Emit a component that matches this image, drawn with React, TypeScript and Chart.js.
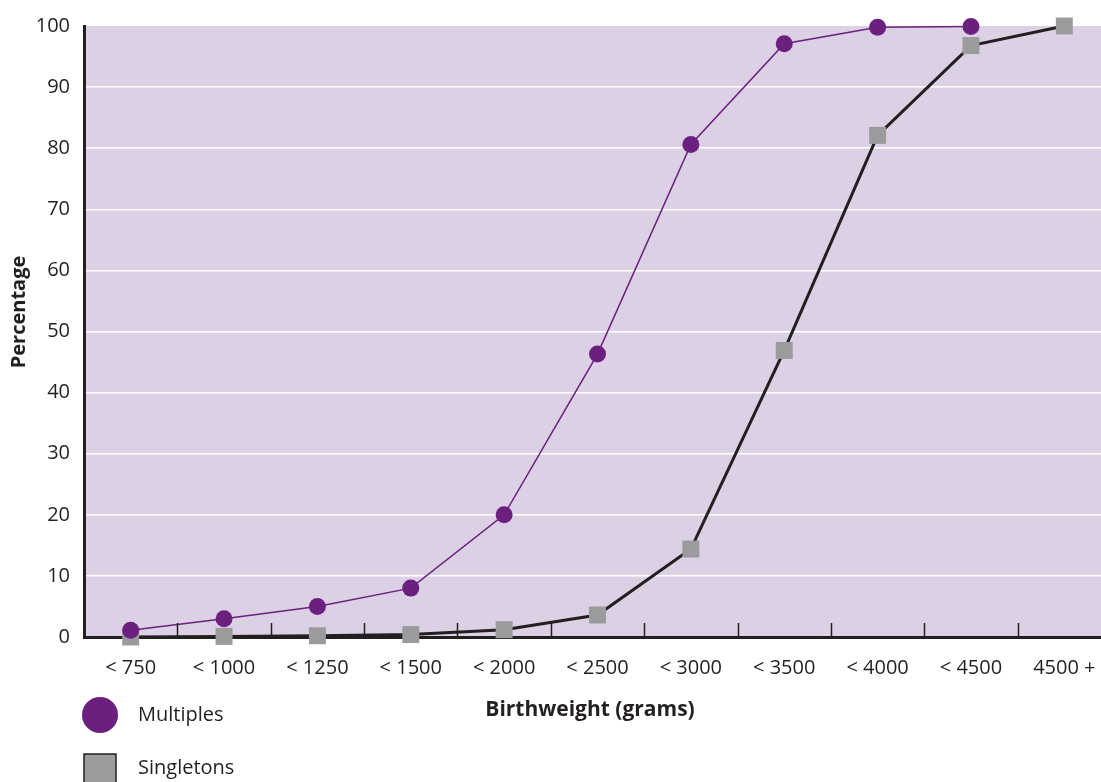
import React, { useEffect, useRef } from "react";
import { Chart, registerables } from "chart.js";

Chart.register(...registerables);

const categories = ["< 750", "< 1000", "< 1250", "< 1500", "< 2000", "< 2500", "< 3000", "< 3500", "< 4000", "< 4500", "4500 +"];
const multiples = [1.1, 3.0, 5.0, 8.0, 20.0, 46.3, 80.6, 97.1, 99.8, 99.9, null];
const singletons = [0.0, 0.1, 0.2, 0.4, 1.2, 3.6, 14.4, 46.9, 82.1, 96.8, 100];
const yTicks = { min: 0, max: 100, step: 10 };
const xTitle = "Birthweight (grams)";
const yTitle = "Percentage";
const legendLabels = ["Multiples", "Singletons"];

const PURPLE = "#6B1F7F";
const GREY = "#9B9B9E";
const DARK = "#231F20";
const BG = "#DCD0E4";
const FONT = "'Open Sans', 'Noto Sans', sans-serif";

const W = 1130;
const H = 782;
const LEFT = 84;
const TOP = 24;
const BOTTOM = 637;
const RIGHT = 1111;

const decorPlugin = {
  id: "decor",
  beforeDraw(chart: any) {
    const { ctx, chartArea } = chart;
    ctx.save();
    ctx.fillStyle = BG;
    ctx.fillRect(chartArea.left, chartArea.top, chartArea.right - chartArea.left, chartArea.bottom - chartArea.top);
    ctx.restore();
  },
  afterDraw(chart: any) {
    const { ctx, chartArea } = chart;
    const xs = chart.scales.x;
    ctx.save();
    // inward tick marks at category boundaries
    ctx.strokeStyle = DARK;
    ctx.lineWidth = 1.5;
    for (let i = 1; i < categories.length; i++) {
      const x = Math.round((xs.getPixelForValue(i - 1) + xs.getPixelForValue(i)) / 2) + 0.5;
      ctx.beginPath();
      ctx.moveTo(x, chartArea.bottom - 14);
      ctx.lineTo(x, chartArea.bottom);
      ctx.stroke();
    }
    // axis titles
    ctx.fillStyle = DARK;
    ctx.font = `bold 21px ${FONT}`;
    ctx.textAlign = "center";
    ctx.textBaseline = "middle";
    ctx.fillText(xTitle, 590, 710);
    ctx.save();
    ctx.translate(19, 312);
    ctx.rotate(-Math.PI / 2);
    ctx.font = `bold 20px ${FONT}`;
    ctx.fillText(yTitle, 0, 0);
    ctx.restore();
    // legend
    ctx.fillStyle = PURPLE;
    ctx.beginPath();
    ctx.arc(100, 715, 18, 0, Math.PI * 2);
    ctx.fill();
    ctx.fillStyle = GREY;
    ctx.fillRect(84, 754, 32, 34);
    ctx.strokeStyle = DARK;
    ctx.lineWidth = 1.5;
    ctx.strokeRect(84, 754, 32, 34);
    ctx.fillStyle = DARK;
    ctx.font = `20px ${FONT}`;
    ctx.textAlign = "left";
    ctx.fillText(legendLabels[0], 138, 715);
    ctx.fillText(legendLabels[1], 138, 768);
    ctx.restore();
  },
};

export default function App() {
  const ref = useRef<HTMLCanvasElement>(null);
  useEffect(() => {
    if (!ref.current) return;
    const chart = new Chart(ref.current, {
      type: "line",
      data: {
        labels: categories,
        datasets: [
          {
            label: legendLabels[0],
            data: multiples,
            borderColor: PURPLE,
            backgroundColor: PURPLE,
            borderWidth: 1.5,
            pointStyle: "circle",
            pointRadius: 8.5,
            pointBorderWidth: 0,
            pointBackgroundColor: PURPLE,
            tension: 0,
            clip: false,
          },
          {
            label: legendLabels[1],
            data: singletons,
            borderColor: DARK,
            backgroundColor: GREY,
            borderWidth: 3,
            pointStyle: "rect",
            pointRadius: 12,
            pointBorderWidth: 0,
            pointBackgroundColor: GREY,
            tension: 0,
            clip: false,
          },
        ],
      },
      options: {
        responsive: false,
        animation: false,
        layout: { padding: { left: 0, top: TOP, right: W - RIGHT, bottom: 0 } },
        plugins: { legend: { display: false }, tooltip: { enabled: false }, title: { display: false } },
        scales: {
          x: {
            type: "category",
            offset: true,
            grid: { display: false, drawTicks: false },
            border: { display: true, color: DARK, width: 3 },
            ticks: { color: DARK, font: { family: FONT, size: 20 }, padding: 19, maxRotation: 0, autoSkip: false },
            afterFit: (s: any) => { s.height = H - BOTTOM; },
          },
          y: {
            min: yTicks.min,
            max: yTicks.max,
            grid: {
              drawTicks: false,
              color: (c: any) => (c.tick && (c.tick.value === yTicks.min || c.tick.value === yTicks.max) ? "rgba(0,0,0,0)" : "#FFFFFF"),
              lineWidth: 1.5,
            },
            border: { display: true, color: DARK, width: 3 },
            ticks: { stepSize: yTicks.step, color: DARK, font: { family: FONT, size: 20 }, padding: 14 },
            afterFit: (s: any) => { s.width = LEFT; },
          },
        },
      },
      plugins: [decorPlugin],
    });
    return () => chart.destroy();
  }, []);
  return (
    <div style={{ position: "fixed", left: 0, top: 0, width: 1101, height: 782, overflow: "hidden", background: "#fff" }}>
      <canvas ref={ref} width={W} height={H} style={{ display: "block", width: W, height: H }} />
    </div>
  );
}
